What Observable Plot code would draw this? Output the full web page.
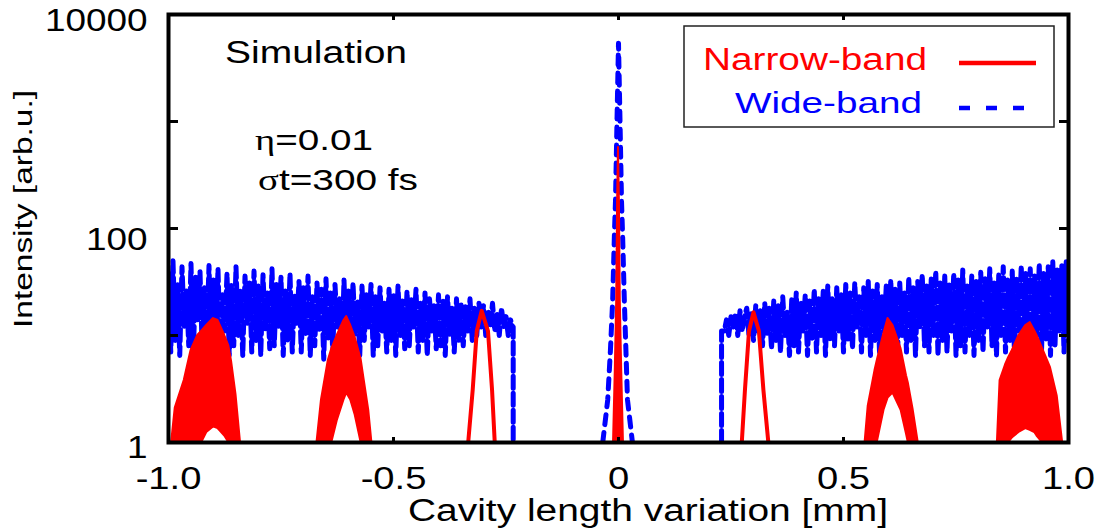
<!DOCTYPE html>
<html><head><meta charset="utf-8">
<script src="https://cdn.jsdelivr.net/npm/d3@7"></script>
<script src="https://cdn.jsdelivr.net/npm/@observablehq/plot@0.6"></script>
<style>
html,body{margin:0;padding:0;background:#fff;}
#chart{position:relative;width:1098px;height:529px;}
</style></head><body><div id="chart"></div>
<script>
// ---- tick labels ----
const xTickValues = [-1, -0.5, 0, 0.5, 1];
const xTickLabels = ["-1.0", "-0.5", "0", "0.5", "1.0"];
const yTickValues = [1, 100, 10000];
const yTickLabels = ["1", "100", "10000"];
const yMinorTicks = [10, 100, 1000];
const xMinorTicks = [-0.5, 0, 0.5];
const seriesNames = ["Narrow-band", "Wide-band"];
const seriesColors = ["#ff0000", "#0000ff"];

// ---- Wide-band (blue, dashed): noisy plateaus sampled every 0.005 mm ----
const wideLeftX0 = -1.000, wideRightX0 = 0.235, wideStep = 0.005;
const wideLeftValues = [
  38, 7, 50, 9, 30, 6.5, 44, 12, 26, 8,
  47, 6, 35, 14, 40, 7, 28, 10, 45, 6.5,
  33, 9, 42, 7, 24, 11, 38, 6.5, 30, 8,
  44, 10, 27, 6.5, 36, 13, 31, 7, 40, 9,
  29, 6.5, 37, 11, 25, 7.5, 42, 8, 30, 12,
  35, 6.5, 26, 9, 38, 7, 24, 13, 32, 7,
  28, 10, 36, 6.5, 23, 8, 31, 11, 27, 6,
  34, 9, 25, 7, 30, 12, 22, 6.5, 33, 8,
  26, 7, 31, 10, 21, 6.5, 29, 9, 24, 12,
  30, 6.5, 23, 8, 28, 11, 20, 7, 27, 9,
  24, 6.5, 29, 10, 21, 7.5, 26, 8, 22, 12,
  27, 7, 20, 9, 25, 6.5, 22, 11, 19, 7.5,
  24, 8, 21, 6.5, 23, 10, 18, 7, 22, 9,
  20, 8, 19, 11, 22, 9, 18, 10, 20, 12,
  19, 10, 17, 12, 20, 11, 16, 10, 18, 12,
  15, 10, 14, 12];
const wideLeftEnd = [[-0.234, 12], [-0.234, 1]];
const wideRightStart = [[0.229, 1], [0.229, 11]];
const wideRightValues = [
  11, 14, 10, 15, 12, 16, 10, 17, 11, 15,
  18, 10, 16, 9, 19, 11, 17, 8, 20, 10,
  18, 7.5, 21, 9, 19, 7, 23, 10, 17, 6.5,
  22, 8, 25, 7, 20, 11, 24, 6.5, 21, 9,
  27, 7, 23, 10, 26, 6.5, 29, 9, 22, 8,
  28, 11, 24, 7, 30, 9, 25, 7.5, 31, 12,
  23, 7, 28, 10, 32, 6.5, 26, 9, 30, 7,
  24, 11, 29, 7, 33, 8, 27, 6.5, 31, 10,
  26, 7, 35, 9, 28, 6.5, 32, 12, 37, 8,
  29, 7, 34, 10, 40, 6.5, 31, 9, 36, 7,
  30, 11, 38, 6.5, 33, 8, 41, 7, 29, 10,
  36, 6.5, 32, 9, 39, 7, 34, 12, 42, 8,
  31, 6.5, 37, 10, 44, 7, 33, 9, 40, 6.5,
  35, 11, 45, 7, 38, 8, 42, 6.5, 36, 10,
  47, 7, 39, 9, 44, 6.5, 50, 8, 41, 11,
  46, 7, 49, 9];
const wideCenter = [[-0.035, 1], [-0.024, 2.5], [-0.018, 7.2], [-0.013, 21], [-0.009, 90], [-0.0067, 180],
  [-0.003, 1200], [0, 5400], [0.003, 1200], [0.0067, 180], [0.009, 90], [0.013, 21], [0.02, 2.5], [0.031, 1]];

// ---- Narrow-band (red): filled peaks [x, lower, upper] ----
const narrowM090 = [[-0.993, 1, 1], [-0.985, 1, 2.1], [-0.965, 1, 3.8], [-0.95, 1, 7.2], [-0.935, 1, 10], [-0.926, 1, 11],
  [-0.915, 1.24, 12.4], [-0.9, 1.4, 14.4], [-0.89, 1.35, 13.8], [-0.875, 1.15, 10], [-0.866, 1, 8], [-0.86, 1, 5.8],
  [-0.85, 1, 2.8], [-0.84, 1, 1]];
const narrowM060 = [[-0.67, 1, 1], [-0.66, 1, 2.5], [-0.645, 1, 5.8], [-0.637, 1, 7.5], [-0.625, 1.6, 10], [-0.61, 2.5, 13.8],
  [-0.604, 2.9, 15], [-0.595, 2.5, 12.4], [-0.585, 1.8, 9.5], [-0.572, 1, 6], [-0.565, 1, 3.8], [-0.555, 1, 2], [-0.548, 1, 1]];
const narrowP060 = [[0.548, 1, 1], [0.555, 1, 2.2], [0.57, 1, 4.7], [0.575, 1, 5.8], [0.59, 2, 10.5], [0.599, 2.6, 14.4],
  [0.61, 2.9, 12.4], [0.628, 2, 7.5], [0.64, 1.2, 4.2], [0.644, 1, 3.6], [0.655, 1, 2], [0.666, 1, 1]];
const narrowP090 = [[0.842, 1, 1], [0.848, 1, 3.8], [0.86, 1, 5.3], [0.867, 1, 6.2], [0.875, 1.1, 7.2], [0.89, 1.24, 10],
  [0.905, 1.35, 12.4], [0.915, 1.3, 13.2], [0.925, 1.24, 11], [0.93, 1.15, 10], [0.942, 1, 7.6], [0.96, 1, 5],
  [0.975, 1, 2.7], [0.987, 1, 1]];
const narrowCenter = [[-0.011, 1, 1], [-0.007, 1, 5], [-0.004, 1, 21], [-0.002, 1, 180], [0, 1, 570],
  [0.002, 1, 180], [0.004, 1, 21], [0.007, 1, 5], [0.011, 1, 1]];
// ---- Narrow-band thin peaks at +-0.3 [x, y] ----
const narrowM030 = [[-0.334, 1], [-0.324, 3.1], [-0.315, 11], [-0.304, 17], [-0.29, 11], [-0.281, 3.1], [-0.275, 1]];
const narrowP030 = [[0.274, 1], [0.281, 3.1], [0.29, 11], [0.3, 16.5], [0.312, 11], [0.322, 3.1], [0.333, 1]];

// ---- build tables ----
const wideBand = [], wideCentral = [];
wideLeftValues.forEach((v, i) => wideBand.push({x: wideLeftX0 + i * wideStep, y: v, seg: "L"}));
wideLeftEnd.forEach(([x, y]) => wideBand.push({x, y, seg: "L"}));
wideCenter.forEach(([x, y]) => wideCentral.push({x, y}));
wideRightStart.forEach(([x, y]) => wideBand.push({x, y, seg: "R"}));
wideRightValues.forEach((v, i) => wideBand.push({x: wideRightX0 + i * wideStep, y: v, seg: "R"}));

const areas = [];
[["m09", narrowM090], ["m06", narrowM060], ["c", narrowCenter], ["p06", narrowP060], ["p09", narrowP090]]
  .forEach(([seg, arr]) => arr.forEach(([x, lo, hi]) => areas.push({x, lo, hi, seg})));
const thin = [];
[["m03", narrowM030], ["p03", narrowP030]].forEach(([seg, arr]) => arr.forEach(([x, y]) => thin.push({x, y, seg})));

const FONT = "'Liberation Sans', Arial, Helvetica, sans-serif";

const svg = Plot.plot({
  width: 1098, height: 529,
  marginLeft: 168, marginRight: 30, marginTop: 14, marginBottom: 87,
  style: {fontFamily: FONT, fontSize: "31px", background: "white", color: "black", overflow: "visible"},
  x: {domain: [-1, 1]},
  y: {type: "log", domain: [1, 10000]},
  marks: [
    Plot.line(wideBand, {x: "x", y: "y", z: "seg", stroke: seriesColors[1], strokeWidth: 5, strokeDasharray: "12,5", clip: true}),
    Plot.line(wideCentral, {x: "x", y: "y", stroke: seriesColors[1], strokeWidth: 5, strokeDasharray: "10,8", clip: true}),
    Plot.areaY(areas, {x: "x", y1: "lo", y2: "hi", z: "seg", fill: seriesColors[0], stroke: seriesColors[0], strokeWidth: 2, clip: true}),
    Plot.line(thin, {x: "x", y: "y", z: "seg", stroke: seriesColors[0], strokeWidth: 4, clip: true}),
    Plot.axisY(yMinorTicks, {anchor: "left", tickSize: -10, strokeWidth: 3, tickFormat: () => "", label: null}),
    Plot.axisY(yMinorTicks, {anchor: "right", tickSize: -10, strokeWidth: 3, tickFormat: () => "", label: null}),
    Plot.axisX(xMinorTicks, {anchor: "bottom", tickSize: -5, strokeWidth: 3, tickFormat: () => "", label: null}),
    Plot.axisX(xMinorTicks, {anchor: "top", tickSize: -5, strokeWidth: 3, tickFormat: () => "", label: null}),
    Plot.axisY(yTickValues.slice(0, 1), {anchor: "left", tickSize: 0, tickPadding: 21, dy: 6, fontSize: 31,
      tickFormat: d => yTickLabels[yTickValues.indexOf(d)], label: null}),
    Plot.axisY(yTickValues.slice(1, 2), {anchor: "left", tickSize: 0, tickPadding: 21, dy: 12, fontSize: 31,
      tickFormat: d => yTickLabels[yTickValues.indexOf(d)], label: null}),
    Plot.axisY(yTickValues.slice(2), {anchor: "left", tickSize: 0, tickPadding: 21, dy: 7, fontSize: 31,
      tickFormat: d => yTickLabels[yTickValues.indexOf(d)], label: null}),
    Plot.axisX(xTickValues, {anchor: "bottom", tickSize: 0, tickPadding: 24, fontSize: 31,
      tickFormat: d => xTickLabels[xTickValues.indexOf(d)], label: null}),
    Plot.frame({stroke: "black", strokeWidth: 4})
  ]
});
document.getElementById("chart").appendChild(svg);

// ---- annotations, legend, axis titles ----
const g = d3.select(svg).append("g").attr("font-family", FONT).attr("fill", "black").attr("text-anchor", "start");
g.append("text").attr("x", 225).attr("y", 63).attr("font-size", 31).attr("data-w", 182).text("Simulation");
const t1 = g.append("text").attr("x", 255).attr("y", 150).attr("font-size", 29).attr("data-w", 118);
t1.append("tspan").attr("font-family", "'Liberation Serif', 'DejaVu Serif', serif").text("η");
t1.append("tspan").text("=0.01");
const t2 = g.append("text").attr("x", 258).attr("y", 190).attr("font-size", 30).attr("data-w", 160);
t2.append("tspan").attr("font-family", "'Liberation Serif', 'DejaVu Serif', serif").text("σ");
t2.append("tspan").text("t=300 fs");

// legend
const lg = g.append("g");
lg.append("rect").attr("x", 684).attr("y", 26).attr("width", 370).attr("height", 101)
  .attr("fill", "white").attr("stroke", "#222").attr("stroke-width", 1.5);
lg.append("text").attr("x", 703).attr("y", 70).attr("font-size", 31).attr("fill", seriesColors[0]).attr("data-w", 224).text(seriesNames[0]);
lg.append("text").attr("x", 735).attr("y", 113).attr("font-size", 30).attr("fill", seriesColors[1]).attr("data-w", 187).text(seriesNames[1]);
lg.append("line").attr("x1", 959).attr("x2", 1036).attr("y1", 63).attr("y2", 63)
  .attr("stroke", seriesColors[0]).attr("stroke-width", 4.5);
lg.append("line").attr("x1", 959).attr("x2", 1025).attr("y1", 108).attr("y2", 108)
  .attr("stroke", seriesColors[1]).attr("stroke-width", 4.5).attr("stroke-dasharray", "11,16");

// axis titles
g.append("text").attr("x", 648).attr("y", 521).attr("text-anchor", "middle").attr("font-size", 31)
  .attr("data-w", 480).text("Cavity length variation [mm]");
g.append("text").attr("transform", "translate(32,209) rotate(-90)").attr("text-anchor", "middle")
  .attr("font-size", 26.5).attr("data-w", 238).text("Intensity [arb.u.]");

// widen glyphs to match the reference's wide lettering
svg.querySelectorAll("text").forEach(t => {
  const L = t.getComputedTextLength();
  if (!L) return;
  let target;
  if (t.hasAttribute("data-w")) target = +t.getAttribute("data-w");
  else if (t.closest('[aria-label="y-axis tick label"]')) target = L * 1.19;
  else target = L * 1.23;
  t.setAttribute("textLength", target);
  t.setAttribute("lengthAdjust", "spacingAndGlyphs");
});
</script></body></html>
